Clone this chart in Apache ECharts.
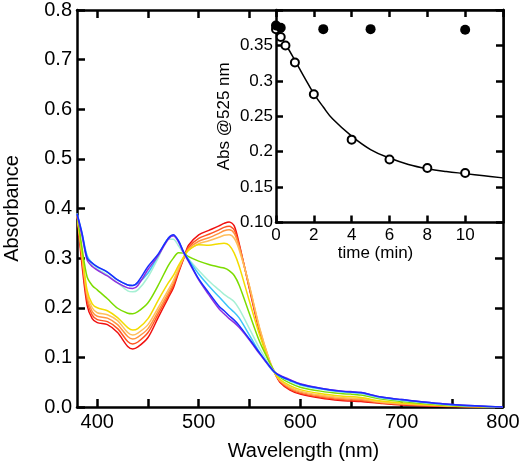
<!DOCTYPE html>
<html>
<head>
<meta charset="utf-8">
<script src="https://cdn.jsdelivr.net/npm/echarts@6/dist/echarts.min.js"></script>
<style>
html,body{margin:0;padding:0;background:#fff;}
#c{width:522px;height:465px;}
</style>
</head>
<body>
<div id="c"></div>
<script>
// ---------- main spectra ----------
const wavelengths = [380,385,390,395,400,410,420,430,435,440,450,460,470,475,480,485,490,500,510,520,525,530,535,540,550,560,570,575,580,590,600,620,640,650,660,680,700,750,800];

const specRed       = [.390,.285,.205,.178,.170,.166,.150,.122,.117,.121,.140,.180,.220,.240,.270,.298,.326,.347,.356,.365,.370,.373,.365,.328,.238,.152,.088,.068,.050,.034,.026,.018,.013,.012,.011,.007,.004,.001,.000];
const specOrangeRed = [.390,.295,.215,.185,.176,.172,.158,.132,.127,.131,.150,.187,.225,.245,.273,.299,.322,.340,.348,.357,.362,.364,.357,.325,.240,.155,.090,.069,.052,.036,.028,.020,.015,.014,.013,.008,.005,.001,.000];
const specOrange    = [.390,.305,.222,.192,.183,.179,.166,.142,.137,.141,.158,.193,.230,.250,.276,.300,.319,.334,.341,.350,.355,.357,.350,.322,.243,.158,.092,.069,.053,.038,.030,.022,.017,.016,.015,.009,.006,.002,.000];
const specLtOrange  = [.390,.305,.228,.200,.190,.186,.174,.150,.145,.149,.166,.200,.236,.255,.279,.301,.316,.329,.335,.342,.346,.347,.340,.316,.244,.160,.093,.069,.054,.040,.032,.024,.019,.018,.017,.010,.007,.002,.000];
const specYellow    = [.390,.310,.235,.208,.200,.194,.180,.160,.155,.158,.178,.215,.250,.265,.285,.302,.316,.327,.326,.329,.330,.326,.310,.283,.213,.145,.088,.068,.056,.043,.035,.027,.022,.021,.019,.012,.008,.002,.000];
const specGreen     = [.390,.320,.262,.245,.236,.218,.199,.189,.188,.192,.210,.245,.285,.300,.311,.310,.303,.294,.287,.282,.280,.275,.265,.245,.188,.132,.089,.071,.060,.048,.040,.032,.027,.026,.024,.016,.011,.003,.000];
const specAqua      = [.390,.345,.300,.285,.278,.266,.250,.234,.232,.236,.262,.300,.338,.338,.325,.310,.298,.275,.254,.236,.227,.220,.212,.197,.158,.118,.084,.071,.062,.052,.044,.036,.030,.029,.027,.018,.013,.004,.000];
const specCyan      = [.390,.350,.305,.290,.282,.272,.256,.246,.245,.249,.270,.305,.340,.345,.335,.312,.297,.268,.244,.222,.211,.200,.191,.179,.145,.110,.080,.069,.062,.053,.045,.037,.031,.030,.028,.019,.014,.004,.000];
const specViolet    = [.388,.345,.296,.283,.276,.264,.250,.240,.239,.245,.277,.305,.338,.345,.333,.311,.293,.256,.226,.198,.188,.178,.170,.160,.135,.107,.081,.070,.064,.055,.047,.038,.032,.031,.029,.020,.015,.005,.000];
const specBlue      = [.390,.350,.300,.290,.283,.272,.256,.246,.245,.252,.283,.308,.340,.347,.335,.313,.295,.258,.230,.203,.194,.184,.175,.164,.137,.109,.082,.070,.063,.054,.046,.038,.032,.030,.029,.020,.015,.005,.000];

const spectra = [
  {name:'0', color:'#f01010', data:specRed},
  {name:'1', color:'#ff5522', data:specOrangeRed},
  {name:'2', color:'#ff9440', data:specOrange},
  {name:'3', color:'#ffbe5a', data:specLtOrange},
  {name:'4', color:'#f2dc00', data:specYellow},
  {name:'5', color:'#7cdc00', data:specGreen},
  {name:'6', color:'#a6f0d4', data:specAqua},
  {name:'7', color:'#3cc4f8', data:specCyan},
  {name:'8', color:'#9030e0', data:specViolet},
  {name:'9', color:'#1a2cff', data:specBlue}
];

const mainYLabels = ['0.0','0.1','0.2','0.3','0.4','0.5','0.6','0.7','0.8'];
const mainXTicks = [400,450,500,550,600,650,700,750];
const mainXLabels = [400,500,600,700,800];

// ---------- inset kinetics ----------
const timeOpen = [0,0.25,0.5,1,2,4,6,8,10];
const absOpen  = [0.373,0.362,0.350,0.326,0.281,0.217,0.189,0.177,0.170];
const timeFilled = [0,0.25,2.5,5,10];
const absFilled  = [0.378,0.375,0.373,0.373,0.372];
const timeFit = [0,0.5,1,1.5,2,2.5,3,4,5,6,7,8,9,10,11,12];
const absFit  = [0.373,0.352,0.329,0.305,0.282,0.263,0.246,0.222,0.203,0.191,0.182,0.176,0.172,0.169,0.166,0.163];
const insetYLabels = ['0.10','0.15','0.2','0.25','0.3','0.35',''];

const zip = (a,b) => a.map((v,i)=>[v,b[i]]);
const FONT = 'Liberation Sans, Arial, Helvetica, sans-serif';
const AX = 2.5;

const chart = echarts.init(document.getElementById('c'), null, {renderer:'canvas'});

const series = spectra.map(s => ({
  type:'line', xAxisIndex:0, yAxisIndex:0, name:s.name,
  data: zip(wavelengths, s.data), showSymbol:false, smooth:0.3,
  lineStyle:{color:s.color, width:1.5}, itemStyle:{color:s.color}, z:2
}));
series.push({
  type:'line', xAxisIndex:2, yAxisIndex:2, data: zip(timeFit, absFit),
  showSymbol:false, smooth:0.4, lineStyle:{color:'#000', width:1.5}, z:12
});
series.push({
  type:'scatter', xAxisIndex:2, yAxisIndex:2, data: zip(timeOpen, absOpen),
  symbol:'circle', symbolSize:8,
  itemStyle:{color:'#fff', borderColor:'#000', borderWidth:2, opacity:1}, z:13
});
series.push({
  type:'scatter', xAxisIndex:2, yAxisIndex:2, data: zip(timeFilled, absFilled),
  symbol:'circle', symbolSize:10, itemStyle:{color:'#000', opacity:1}, z:14
});

const option = {
  backgroundColor:'#fff',
  animation:false,
  grid:[
    {left:77, top:10, right:19, bottom:58, outerBoundsMode:'none', containLabel:false, z:0},
    {left:276, top:10, right:19, bottom:242.5, show:true, backgroundColor:'#fff', borderWidth:0, outerBoundsMode:'none', containLabel:false, z:10}
  ],
  xAxis:[
    {type:'value', gridIndex:0, position:'bottom', min:380, max:800, z:1,
     name:'Wavelength (nm)', nameLocation:'middle', nameGap:34,
     nameTextStyle:{fontFamily:FONT, fontSize:20, color:'#000', padding:[0,0,0,27]},
     axisLine:{show:true, onZero:false, lineStyle:{color:'#000', width:AX}},
     axisTick:{show:true, inside:true, length:8, lineStyle:{color:'#000', width:AX}, customValues:mainXTicks},
     axisLabel:{show:true, fontFamily:FONT, fontSize:20, color:'#000', margin:5, customValues:mainXLabels},
     splitLine:{show:false}},
    {type:'value', gridIndex:0, position:'top', min:380, max:800, z:1,
     axisLine:{show:true, onZero:false, lineStyle:{color:'#000', width:AX}},
     axisTick:{show:true, inside:true, length:8, lineStyle:{color:'#000', width:AX}, customValues:mainXTicks},
     axisLabel:{show:false}, splitLine:{show:false}},
    {type:'value', gridIndex:1, position:'bottom', min:0, max:12, interval:2, z:11,
     name:'time (min)', nameLocation:'middle', nameGap:21,
     nameTextStyle:{fontFamily:FONT, fontSize:17, color:'#000', padding:[0,28,0,0]},
     axisLine:{show:true, onZero:false, lineStyle:{color:'#000', width:AX}},
     axisTick:{show:true, inside:true, length:7, lineStyle:{color:'#000', width:AX}},
     axisLabel:{show:true, showMaxLabel:false, fontFamily:FONT, fontSize:17, color:'#000', margin:4},
     splitLine:{show:false}},
    {type:'value', gridIndex:1, position:'top', min:0, max:12, interval:2, z:11,
     axisLine:{show:true, onZero:false, lineStyle:{color:'#000', width:AX}},
     axisTick:{show:true, inside:true, length:7, lineStyle:{color:'#000', width:AX}},
     axisLabel:{show:false}, splitLine:{show:false}}
  ],
  yAxis:[
    {type:'value', gridIndex:0, position:'left', min:0, max:0.8, interval:0.1, z:1,
     name:'Absorbance', nameLocation:'middle', nameGap:55, nameRotate:90,
     nameTextStyle:{fontFamily:FONT, fontSize:20, color:'#000'},
     axisLine:{show:true, onZero:false, lineStyle:{color:'#000', width:AX}},
     axisTick:{show:true, inside:true, length:8, lineStyle:{color:'#000', width:AX}},
     axisLabel:{show:true, fontFamily:FONT, fontSize:20, color:'#000', margin:5,
       formatter:(v)=>mainYLabels[Math.round(v*10)]},
     splitLine:{show:false}},
    {type:'value', gridIndex:0, position:'right', min:0, max:0.8, interval:0.1, z:1,
     axisLine:{show:true, onZero:false, lineStyle:{color:'#000', width:AX}},
     axisTick:{show:true, inside:true, length:8, lineStyle:{color:'#000', width:AX}},
     axisLabel:{show:false}, splitLine:{show:false}},
    {type:'value', gridIndex:1, position:'left', min:0.10, max:0.40, interval:0.05, z:11,
     name:'Abs @525 nm', nameLocation:'middle', nameGap:43, nameRotate:90,
     nameTextStyle:{fontFamily:FONT, fontSize:17, color:'#000'},
     axisLine:{show:true, onZero:false, lineStyle:{color:'#000', width:AX}},
     axisTick:{show:true, inside:true, length:7, lineStyle:{color:'#000', width:AX}},
     axisLabel:{show:true, fontFamily:FONT, fontSize:17, color:'#000', margin:3,
       formatter:(v)=>insetYLabels[Math.round((v-0.10)/0.05)]},
     splitLine:{show:false}},
    {type:'value', gridIndex:1, position:'right', min:0.10, max:0.40, interval:0.05, z:11,
     axisLine:{show:true, onZero:false, lineStyle:{color:'#000', width:AX}},
     axisTick:{show:true, inside:true, length:7, lineStyle:{color:'#000', width:AX}},
     axisLabel:{show:false}, splitLine:{show:false}}
  ],
  series: series
};
chart.setOption(option);
</script>
</body>
</html>
